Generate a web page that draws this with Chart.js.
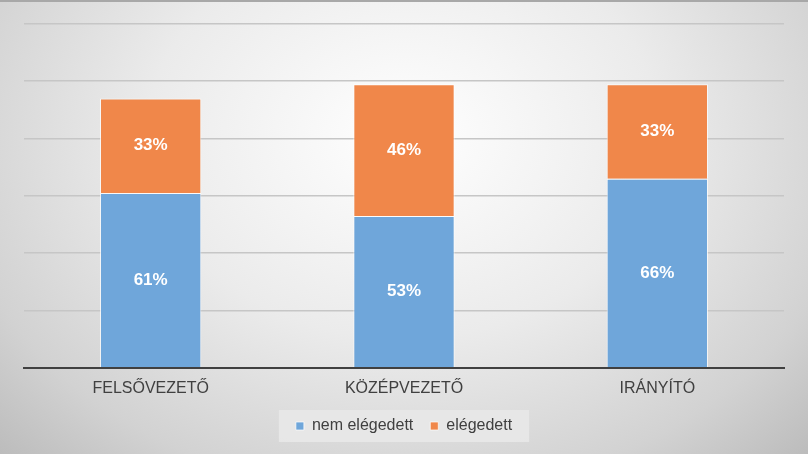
<!DOCTYPE html>
<html>
<head>
<meta charset="utf-8">
<script src="https://cdn.jsdelivr.net/npm/chart.js@4"></script>
<style>
  html, body { margin: 0; padding: 0; }
  body {
    width: 808px; height: 454px; overflow: hidden;
    background: radial-gradient(ellipse at 50% 30%, #ffffff 0%, #ebebeb 45%, #d2d2d2 80%, #bcbcbc 100%);
  }
  #wrap { position: relative; width: 808px; height: 452px; border-top: 2px solid #a8a8a8; }
</style>
</head>
<body>
<div id="wrap"><canvas id="c"></canvas></div>
<script>
const categories = ["FELSŐVEZETŐ", "KÖZÉPVEZETŐ", "IRÁNYÍTÓ"];
const nemElegedett = [61, 53, 66];
const elegedett = [33, 46, 33];
const yMax = 120;
const yStep = 20;

/* draw % labels in the middle of each segment */
const segLabels = {
  id: "segLabels",
  afterDatasetsDraw(chart) {
    const ctx = chart.ctx;
    ctx.save();
    ctx.font = "bold 17px 'Liberation Sans', Arial, sans-serif";
    ctx.fillStyle = "#ffffff";
    ctx.textAlign = "center";
    ctx.textBaseline = "middle";
    chart.data.datasets.forEach((ds, i) => {
      chart.getDatasetMeta(i).data.forEach((bar, j) => {
        ctx.fillText(ds.data[j] + "%", bar.x, (bar.y + bar.base) / 2);
      });
    });
    ctx.restore();
  }
};

/* light box behind the legend */
const legendBox = {
  id: "legendBox",
  beforeDraw(chart) {
    const lg = chart.legend;
    if (!lg || !lg.legendHitBoxes.length) return;
    const first = lg.legendHitBoxes[0];
    const last = lg.legendHitBoxes[lg.legendHitBoxes.length - 1];
    const ctx = chart.ctx;
    ctx.save();
    ctx.fillStyle = "rgba(232,232,232,0.9)";
    ctx.fillRect(first.left - 17, first.top - 8, last.left + last.width - first.left + 34, first.height + 16);
    ctx.restore();
  }
};

new Chart(document.getElementById("c"), {
  type: "bar",
  data: {
    labels: categories,
    datasets: [
      {
        label: "nem elégedett",
        data: nemElegedett,
        backgroundColor: "#6fa6da",
        borderColor: "rgba(255,255,255,0.7)",
        borderWidth: 1,
        categoryPercentage: 0.8,
        barPercentage: 0.5
      },
      {
        label: "elégedett",
        data: elegedett,
        backgroundColor: "#f0874a",
        borderColor: "rgba(255,255,255,0.7)",
        borderWidth: 1,
        categoryPercentage: 0.8,
        barPercentage: 0.5
      }
    ]
  },
  options: {
    responsive: true,
    maintainAspectRatio: false,
    animation: false,
    layout: { padding: { left: 24, right: 24, top: 22, bottom: 10 } },
    scales: {
      x: {
        stacked: true,
        grid: { display: false },
        border: { color: "#404040", width: 2 },
        ticks: {
          color: "#404040",
          padding: 3,
          font: { size: 16, family: "'Liberation Sans', Arial, sans-serif" }
        }
      },
      y: {
        stacked: true,
        min: 0,
        max: yMax,
        border: { display: false },
        grid: { color: "#c6c6c6", lineWidth: 1.6, drawTicks: false },
        ticks: { display: false, stepSize: yStep }
      }
    },
    plugins: {
      legend: {
        position: "bottom",
        labels: {
          boxWidth: 8,
          boxHeight: 8,
          padding: 17,
          color: "#404040",
          font: { size: 16, family: "'Liberation Sans', Arial, sans-serif" }
        }
      },
      tooltip: { enabled: false }
    }
  },
  plugins: [legendBox, segLabels]
});
</script>
</body>
</html>
